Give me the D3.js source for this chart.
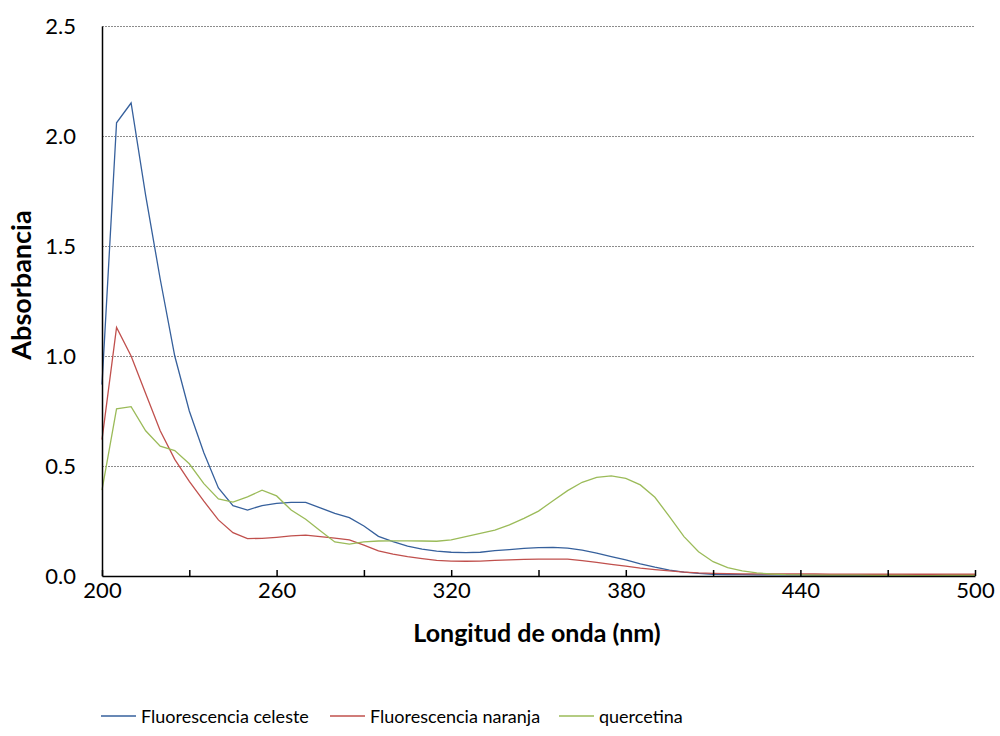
<!DOCTYPE html>
<html>
<head>
<meta charset="utf-8">
<script src="https://cdn.jsdelivr.net/npm/d3@7/dist/d3.min.js"></script>
<style>
  body { margin: 0; background: #fff; }
  svg { font-family: Lato, "Noto Sans", sans-serif; }
</style>
</head>
<body>
<div id="chart"></div>
<script>
// wavelengths every 5 nm, 200..500
let wavelengths = d3.range(200, 501, 5)

let celeste = [
  0.87, 2.06, 2.15, 1.73, 1.35, 1.0, 0.75, 0.56, 0.40, 0.32,
  0.30, 0.32, 0.33, 0.335, 0.335, 0.31, 0.285, 0.265, 0.227, 0.18,
  0.156, 0.136, 0.122, 0.113, 0.108, 0.106, 0.108, 0.115, 0.12, 0.126,
  0.129, 0.13, 0.127, 0.118, 0.104, 0.088, 0.073, 0.055, 0.04, 0.027,
  0.018, 0.012, 0.008, 0.006, 0.006, 0.005, 0.005, 0.005, 0.005, 0.004,
  0.004, 0.004, 0.004, 0.004, 0.004, 0.003, 0.003, 0.003, 0.003, 0.003,
  0.003
]

let naranja = [
  0.62, 1.13, 1.0, 0.83, 0.66, 0.53, 0.43, 0.34, 0.255, 0.197,
  0.17, 0.171, 0.176, 0.182, 0.186, 0.179, 0.172, 0.164, 0.14, 0.114,
  0.099, 0.088, 0.079, 0.071, 0.068, 0.067, 0.068, 0.071, 0.073, 0.076,
  0.077, 0.077, 0.077, 0.07, 0.062, 0.053, 0.045, 0.036, 0.029, 0.023,
  0.018, 0.014, 0.012, 0.011, 0.01, 0.01, 0.009, 0.009, 0.009, 0.009,
  0.008, 0.008, 0.008, 0.008, 0.008, 0.008, 0.008, 0.008, 0.008, 0.008,
  0.008
]

let quercetina = [
  0.39, 0.76, 0.77, 0.66, 0.59, 0.57, 0.51, 0.42, 0.35, 0.336,
  0.36, 0.39, 0.364, 0.30, 0.258, 0.206, 0.155, 0.145, 0.155, 0.159,
  0.16, 0.16, 0.159, 0.158, 0.164, 0.179, 0.194, 0.209, 0.232, 0.262,
  0.295, 0.342, 0.388, 0.426, 0.448, 0.455, 0.444, 0.414, 0.358, 0.27,
  0.179, 0.11, 0.065, 0.038, 0.023, 0.014, 0.009, 0.006, 0.005, 0.004,
  0.004, 0.004, 0.004, 0.003, 0.003, 0.003, 0.002, 0.002, 0.003, 0.003,
  0.003
]

let seriesNames = ['Fluorescencia celeste', 'Fluorescencia naranja', 'quercetina']
let seriesColors = ['#36609C', '#C0504D', '#9BBB59']
let xTicks = [200, 260, 320, 380, 440, 500]
let yTicks = [0, 0.5, 1.0, 1.5, 2.0, 2.5]

let margin = { top: 26, left: 102, right: 25, bottom: 160 }
let width = 1000 - margin.left - margin.right
let height = 736 - margin.top - margin.bottom

let svg = d3.select('#chart')
  .append('svg')
  .attr('width', 1000)
  .attr('height', 736)

let g = svg.append('g')
  .attr('transform', `translate(${margin.left},${margin.top})`)

let xPositionScale = d3.scaleLinear().domain([200, 500]).range([0, width])
let yPositionScale = d3.scaleLinear().domain([0, 2.5]).range([height, 0])

// dotted gridlines
g.selectAll('.grid')
  .data(yTicks.filter(d => d > 0))
  .enter()
  .append('line')
  .attr('class', 'grid')
  .attr('x1', 0)
  .attr('x2', width)
  .attr('y1', d => Math.round(yPositionScale(d)) + 0.5)
  .attr('y2', d => Math.round(yPositionScale(d)) + 0.5)
  .attr('stroke', '#8c8c8c')
  .attr('stroke-width', 1)
  .attr('stroke-dasharray', '2,1')

// lines
let allSeries = [celeste, naranja, quercetina]
let line = d3.line()
  .x((d, i) => xPositionScale(wavelengths[i]))
  .y(d => yPositionScale(d))

g.selectAll('.series')
  .data(allSeries)
  .enter()
  .append('path')
  .attr('class', 'series')
  .attr('d', line)
  .attr('fill', 'none')
  .attr('stroke', (d, i) => seriesColors[i])
  .attr('stroke-width', 1.3)

// x axis: ticks every 30 nm, labels every 60
let xAxis = d3.axisBottom(xPositionScale)
  .tickValues(d3.range(200, 501, 30))
  .tickSizeInner(-6)
  .tickSizeOuter(0)
  .tickFormat(d => xTicks.includes(d) ? d : '')
  .tickPadding(6)

let xg = g.append('g')
  .attr('class', 'axis x-axis')
  .attr('transform', `translate(0,${height})`)
  .call(xAxis)
xg.select('.domain').attr('stroke', '#000').attr('stroke-width', 1.5)
xg.selectAll('.tick line').attr('stroke', '#000').attr('stroke-width', 1.5)
xg.selectAll('.tick text').attr('font-size', 22).attr('fill', '#000')
  .attr('font-family', 'Lato, sans-serif')

// y axis
let yAxis = d3.axisLeft(yPositionScale)
  .tickValues(yTicks)
  .tickSize(0)
  .tickPadding(26)
  .tickFormat(d3.format('.1f'))

let yg = g.append('g')
  .attr('class', 'axis y-axis')
  .call(yAxis)
yg.select('.domain').attr('stroke', '#000').attr('stroke-width', 1.5)
yg.selectAll('.tick text').attr('font-size', 22).attr('fill', '#000')
  .attr('font-family', 'Lato, sans-serif')

// axis titles
svg.append('text')
  .text('Longitud de onda (nm)')
  .attr('x', 537)
  .attr('y', 642)
  .attr('text-anchor', 'middle')
  .attr('font-weight', 'bold')
  .attr('font-size', 25)

svg.append('text')
  .text('Absorbancia')
  .attr('transform', 'translate(31,285) rotate(-90)')
  .attr('text-anchor', 'middle')
  .attr('font-weight', 'bold')
  .attr('font-size', 27)

// legend
let legendX = [101, 330, 559]
let legend = svg.selectAll('.legend')
  .data(seriesNames)
  .enter()
  .append('g')
  .attr('class', 'legend')
  .attr('transform', (d, i) => `translate(${legendX[i]},716)`)

legend.append('line')
  .attr('x1', 0)
  .attr('x2', 35)
  .attr('y1', 0)
  .attr('y2', 0)
  .attr('stroke', (d, i) => seriesColors[i])
  .attr('stroke-width', 1.3)

legend.append('text')
  .text(d => d)
  .attr('x', 40)
  .attr('y', 7)
  .attr('font-size', 18)
</script>
</body>
</html>
